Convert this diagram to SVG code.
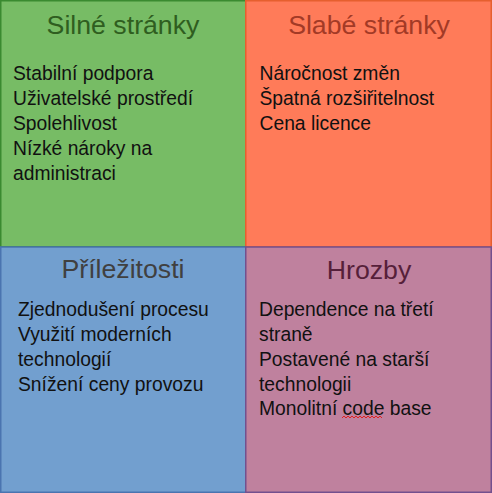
<svg xmlns="http://www.w3.org/2000/svg" width="492" height="493" viewBox="0 0 492 493">
<style>
.box{stroke-width:1.5}
.title{font-family:"Liberation Sans",Arial,sans-serif;font-size:26.7px;text-anchor:middle}
.body{font-family:"Liberation Sans",Arial,sans-serif;font-size:19.3px;fill:#111}
</style>
<g id="s">
<rect class="box" x="0.75" y="0.75" width="245" height="246" fill="#77bc65" stroke="#3a8a30"/>
<text class="title" x="123" y="34" fill="#2f5e20">Silné stránky</text>
<text class="body" x="13" y="80">Stabilní podpora</text>
<text class="body" x="13" y="105">Uživatelské prostředí</text>
<text class="body" x="13" y="130">Spolehlivost</text>
<text class="body" x="13" y="155">Nízké nároky na</text>
<text class="body" x="13" y="180">administraci</text>
</g>
<g id="w">
<rect class="box" x="245.75" y="0.75" width="245.5" height="246" fill="#ff7b59" stroke="#e65f2e"/>
<text class="title" x="369" y="34" fill="#a33a26">Slabé stránky</text>
<text class="body" x="259.5" y="80">Náročnost změn</text>
<text class="body" x="259.5" y="105">Špatná rozšiřitelnost</text>
<text class="body" x="259.5" y="130">Cena licence</text>
</g>
<g id="o">
<rect class="box" x="0.75" y="247" width="245" height="245.25" fill="#729fcf" stroke="#4a74b0"/>
<text class="title" x="123" y="278" fill="#404040">Příležitosti</text>
<text class="body" x="18" y="316">Zjednodušení procesu</text>
<text class="body" x="18" y="341">Využití moderních</text>
<text class="body" x="18" y="366">technologií</text>
<text class="body" x="18" y="390.5">Snížení ceny provozu</text>
</g>
<g id="t">
<rect class="box" x="245.75" y="247" width="245.5" height="245.25" fill="#bf819e" stroke="#73508e"/>
<text class="title" x="369" y="278.5" fill="#561f3a">Hrozby</text>
<text class="body" x="259" y="316">Dependence na třetí</text>
<text class="body" x="259" y="341">straně</text>
<text class="body" x="259" y="366">Postavené na starší</text>
<text class="body" x="259" y="390.5">technologii</text>
<text class="body" x="259" y="415">Monolitní code base</text>
<path d="M342 418 l2 -2 l2 2 l2 -2 l2 2 l2 -2 l2 2 l2 -2 l2 2 l2 -2 l2 2 l2 -2 l2 2 l2 -2 l2 2 l2 -2 l2 2 l2 -2 l2 2 l2 -2 l2 2" fill="none" stroke="#e02020" stroke-width="1"/>
</g>
<g id="connectors"/>
</svg>
